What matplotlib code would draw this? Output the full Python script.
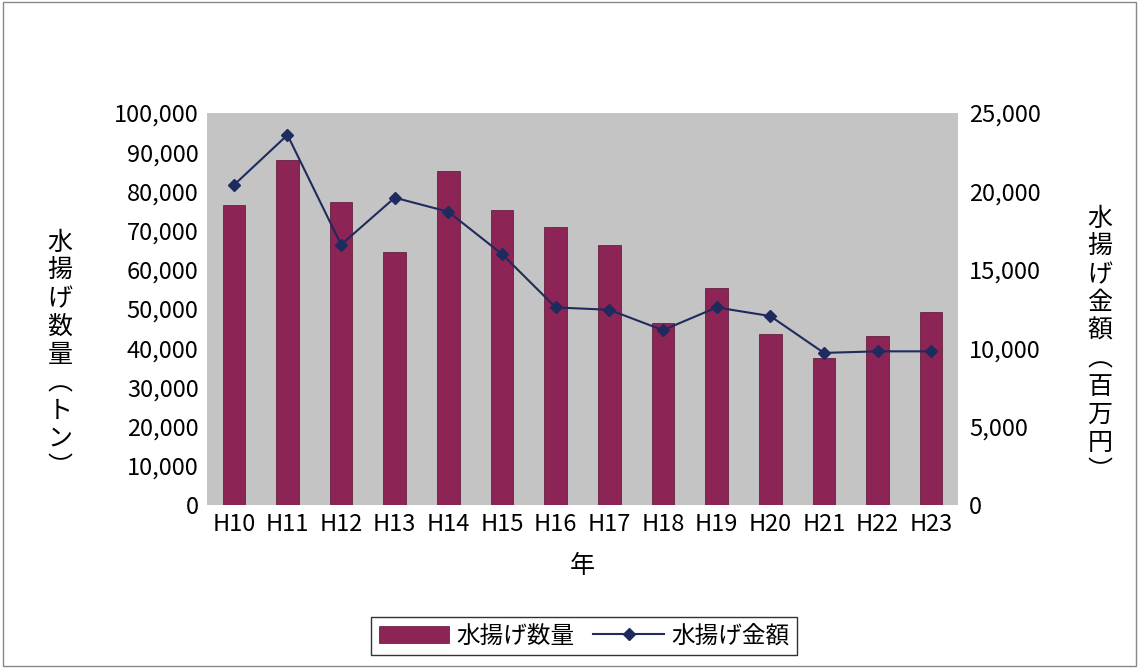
import numpy as np
import matplotlib.pyplot as plt

plt.rcParams['font.family'] = ['Noto Sans CJK JP', 'DejaVu Sans']

years = ["H10", "H11", "H12", "H13", "H14", "H15", "H16", "H17", "H18", "H19", "H20", "H21", "H22", "H23"]
quantity = [76500, 88000, 77300, 64500, 85300, 75200, 70800, 66300, 46500, 55300, 43700, 37500, 43200, 49300]
amount = [20400, 23600, 16600, 19600, 18700, 16000, 12600, 12450, 11150, 12600, 12050, 9700, 9800, 9800]

fig = plt.figure(figsize=(11.39, 6.68), dpi=100)
ax = fig.add_axes([207/1139, 1-505/668, 751/1139, 392/668])
ax.set_facecolor('#c4c4c4')
x = np.arange(len(years))
bars = ax.bar(x, quantity, width=0.42, color='#8c2456', edgecolor='#5a1030', linewidth=0.5, label='水揚げ数量')
ax.set_ylim(0, 100000)
ax.set_xlim(-0.5, len(years) - 0.5)
ax.set_yticks(range(0, 100001, 10000))
ax.set_yticklabels([f"{v:,}" for v in range(0, 100001, 10000)], fontsize=17)
ax.set_xticks(x)
ax.set_xticklabels(years, fontsize=17)
ax.tick_params(length=0, pad=6)
for s in ax.spines.values():
    s.set_visible(False)
ax.set_xlabel('年', fontsize=18, labelpad=12)

ax2 = ax.twinx()
line, = ax2.plot(x, amount, color='#1f2a5e', marker='D', markersize=6, linewidth=1.5, label='水揚げ金額')
ax2.set_ylim(0, 25000)
ax2.set_yticks(range(0, 25001, 5000))
ax2.set_yticklabels([f"{v:,}" for v in range(0, 25001, 5000)], fontsize=17)
ax2.tick_params(length=0, pad=8)
for s in ax2.spines.values():
    s.set_visible(False)

fig.text(60/1139, 1-355/668, '水\n揚\nげ\n数\n量\n︵\nト\nン\n︶', fontsize=18, ha='center', va='center', linespacing=1.1)
fig.text(1100/1139, 1-345/668, '水\n揚\nげ\n金\n額\n︵\n百\n万\n円\n︶', fontsize=18, ha='center', va='center', linespacing=1.1)

leg = fig.legend([bars, line], ['水揚げ数量', '水揚げ金額'], loc='center', bbox_to_anchor=(584/1139, 1-636/668),
                 ncol=2, fontsize=17, frameon=True, fancybox=False, edgecolor='black',
                 handlelength=3, columnspacing=0.8, handletextpad=0.3, borderpad=0.3)
fig.patches.append(plt.Rectangle((0.003, 0.003), 0.994, 0.994, transform=fig.transFigure, fill=False, edgecolor='#888888', linewidth=1))
fig.savefig('out.png', dpi=100)
